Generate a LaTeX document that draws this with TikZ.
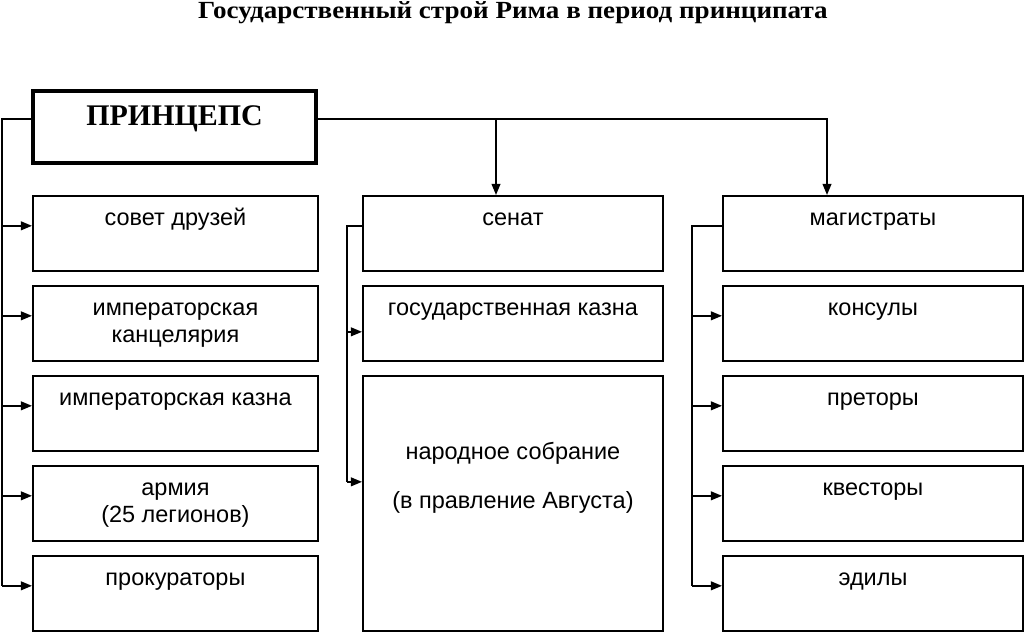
\documentclass[tikz,border=0pt]{standalone}
\usepackage{fontspec}
\setmainfont{Liberation Serif}
\setsansfont{Liberation Sans}
\newfontfamily\titlefont[FakeStretch=1.1]{Liberation Serif}
\usetikzlibrary{arrows.meta}

\begin{document}
\begin{tikzpicture}[x=0.025cm, y=-0.025cm,
        every node/.style={inner sep=0pt},
        cell/.style={draw, line width=1.3pt, anchor=north west, minimum width=7.125cm, minimum height=1.875cm},
        wide/.style={cell, minimum width=7.5cm},
        txt/.style={anchor=base, yshift=-0.75cm, align=center, font=\sffamily\fontsize{16.7}{19.2}\selectfont},
        twolines/.style={txt, yshift=-0.675cm},
        link/.style={line width=1.2pt},
        arr/.style={link, -{Triangle[length=0.28cm, width=0.22cm]}}]
        \useasboundingbox (0,0) rectangle (1024,632);

        % title
        \node[anchor=base, font=\titlefont\bfseries\fontsize{17.5}{20}\selectfont] (title) at (513,18) {Государственный строй Рима в период принципата};

        % princeps
        \node[draw, line width=2.85pt, anchor=north west, minimum width=7.075cm, minimum height=1.8cm,
              label={[anchor=base, yshift=-0.9cm, font=\bfseries\fontsize{21.3}{24}\selectfont]north:ПРИНЦЕПС}] (princ) at (31,89) {};

        % left column
        \node[cell, label={[txt]north:совет друзей}] (sovet) at (32,195) {};
        \node[cell, label={[twolines]north:императорская\\канцелярия}] (kanc) at (32,285) {};
        \node[cell, label={[txt]north:императорская казна}] (kazna) at (32,375) {};
        \node[cell, label={[twolines]north:армия\\(25 легионов)}] (armia) at (32,465) {};
        \node[cell, label={[txt]north:прокураторы}] (prok) at (32,555) {};

        % middle column
        \node[wide, label={[txt]north:сенат}] (senat) at (362,195) {};
        \node[wide, label={[txt]north:государственная казна}] (gkazna) at (362,285) {};
        \node[wide, minimum height=6.375cm, label={[txt, yshift=-2.575cm]north:народное собрание\\[15.5pt](в правление Августа)}] (narod) at (362,375) {};

        % right column
        \node[wide, label={[txt]north:магистраты}] (mag) at (722,195) {};
        \node[wide, label={[txt]north:консулы}] (kons) at (722,285) {};
        \node[wide, label={[txt]north:преторы}] (pret) at (722,375) {};
        \node[wide, label={[txt]north:квесторы}] (kvest) at (722,465) {};
        \node[wide, label={[txt]north:эдилы}] (edil) at (722,555) {};

        \coordinate (lbus) at (2,119);
        \coordinate (mbus) at (347,225);
        \coordinate (rbus) at (692,225);
        \coordinate (tsen) at (496,119);
        \coordinate (tmag) at (827,119);

        % from princeps
        \draw[link] ([yshift=0.2cm]princ.west) -| ([yshift=0.19cm]prok.west -| lbus);
        \draw[arr] ([yshift=0.2cm]princ.east) -| (tmag |- mag.north);
        \draw[arr] ([yshift=0.2cm]princ.east -| tsen) -- (tsen |- senat.north);
        \foreach \n in {sovet,kanc,kazna,armia,prok}
            \draw[arr] ([yshift=0.19cm]\n.west -| lbus) -- ([yshift=0.19cm]\n.west);

        % senate
        \draw[link] ([yshift=0.19cm]senat.west) -| ([yshift=0.54cm]narod.west -| mbus);
        \draw[arr] ([yshift=-0.21cm]gkazna.west -| mbus) -- ([yshift=-0.21cm]gkazna.west);
        \draw[arr] ([yshift=0.54cm]narod.west -| mbus) -- ([yshift=0.54cm]narod.west);

        % magistrates
        \draw[link] ([yshift=0.19cm]mag.west) -| ([yshift=0.19cm]edil.west -| rbus);
        \foreach \n in {kons,pret,kvest,edil}
            \draw[arr] ([yshift=0.19cm]\n.west -| rbus) -- ([yshift=0.19cm]\n.west);
    \end{tikzpicture}
\end{document}
